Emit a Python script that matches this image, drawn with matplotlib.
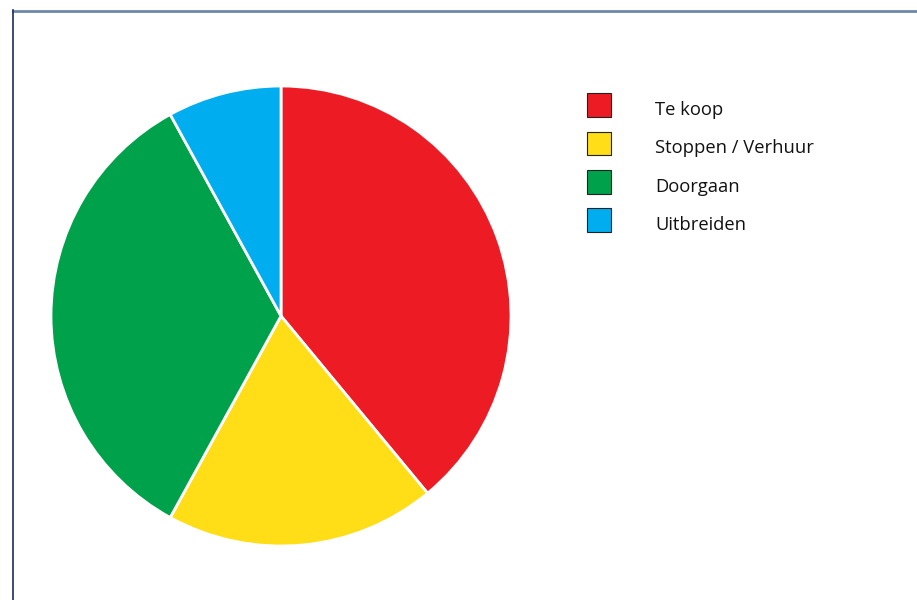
import matplotlib.pyplot as plt
from matplotlib.patches import Rectangle
from matplotlib.lines import Line2D

labels = ["Te koop", "Stoppen / Verhuur", "Doorgaan", "Uitbreiden"]
values = [39, 19, 34, 8]
colors = ["#ED1C24", "#FFDD17", "#00A14B", "#00AEEF"]

W, H = 917, 600
fig = plt.figure(figsize=(W / 100, H / 100), dpi=100)

# frame lines (top and left)
fig.add_artist(Line2D([13 / W, 1], [1 - 10.5 / H] * 2, color="#6f88a8", lw=2))
fig.add_artist(Line2D([13 / W] * 2, [0, 1 - 10 / H], color="#1a2f5f", lw=1.2))

# pie
ax = fig.add_axes([(281 - 230) / W, (600 - 546) / H, 460 / W, 460 / H])
ax.pie(values, colors=colors, startangle=90, counterclock=False, radius=1,
       wedgeprops=dict(edgecolor="white", linewidth=2))
ax.set_xlim(-1, 1)
ax.set_ylim(-1, 1)
ax.set_aspect("equal")
ax.axis("off")

# legend
for i, (lab, col) in enumerate(zip(labels, colors)):
    yc = 105 + i * 38.4
    fig.add_artist(Rectangle((587 / W, 1 - (yc + 11.7) / H), 23.5 / W, 23.4 / H,
                             facecolor=col, edgecolor="#222222", lw=0.8,
                             transform=fig.transFigure))
    fig.text(655 / W, 1 - (yc + 10) / H, lab, fontsize=13.2, family="Open Sans",
             va="baseline", ha="left", color="#111111")

fig.savefig("out.png", dpi=100)
